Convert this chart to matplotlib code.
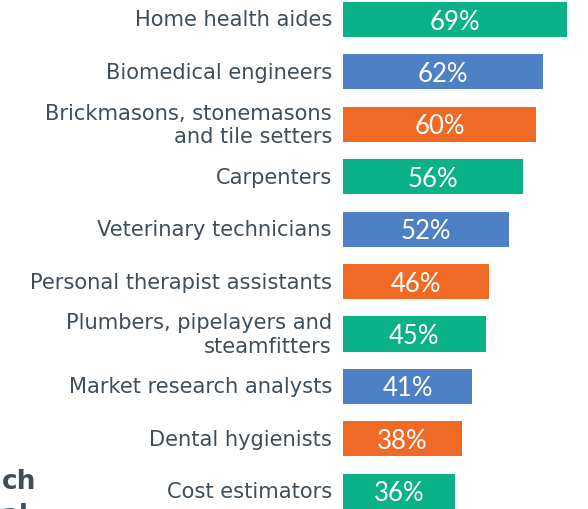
import matplotlib
matplotlib.use("Agg")
import matplotlib.pyplot as plt

# ── DATA ───────────────────────────────────────────────────
jobs = [
    "Home health aides",
    "Biomedical engineers",
    "Brickmasons, stonemasons\nand tile setters",
    "Carpenters",
    "Veterinary technicians",
    "Personal therapist assistants",
    "Plumbers, pipelayers and\nsteamfitters",
    "Market research analysts",
    "Dental hygienists",
    "Cost estimators",
]
growth = [69, 62, 60, 56, 52, 46, 45, 41, 38, 36]
bar_colors = ["#0bb287", "#4d80c4", "#f06a25"] * 3 + ["#0bb287"]

TEXT = "#3e4e5b"

# ── CANVAS ─────────────────────────────────────────────────
fig = plt.figure(figsize=(5.88, 5.10), dpi=100)
ax = fig.add_axes([343 / 588, 0, 1 - 343 / 588, 1])

pos = list(range(len(jobs)))
ax.barh(pos, growth, height=0.67, color=bar_colors)
ax.set_xlim(2.95, 75.2)
ax.set_ylim(9.34, -0.391)
ax.axis("off")

# ── LABELS ─────────────────────────────────────────────────
for i, (name, v) in enumerate(zip(jobs, growth)):
    ax.text(v / 2 + 1.5, i + 0.03, f"{v}%", ha="center", va="center",
            color="white", fontsize=18.5, family="Lato")
    ax.text(-0.045, i, name, transform=ax.get_yaxis_transform(),
            ha="right", va="center", color=TEXT, fontsize=15.1,
            family="DejaVu Sans", linespacing=1.22, clip_on=False)

# cut-off heading fragment at the bottom left
fig.text(2 / 588, 1 - 489 / 510, "ch", ha="left", va="baseline",
         color=TEXT, fontsize=19, fontweight="bold", family="DejaVu Sans")
fig.text(2 / 588, 1 - 523 / 510, "al", ha="left", va="baseline",
         color=TEXT, fontsize=19, fontweight="bold", family="DejaVu Sans")

plt.savefig("out.png", dpi=100)
